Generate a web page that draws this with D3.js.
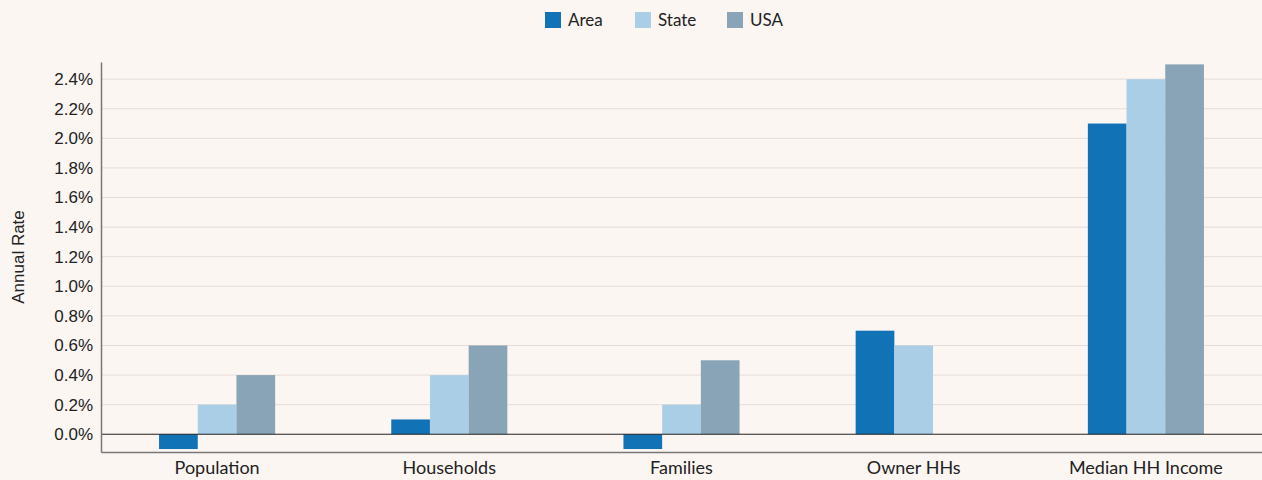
<!DOCTYPE html>
<html lang="en">
<head>
<meta charset="UTF-8">
<title>Annual Rate</title>
<style>
  body { margin: 0; background: #fcf6f3; }
  svg { display: block; }
</style>
</head>
<body>
<svg id="chart" width="1262" height="480"></svg>
<script src="https://cdn.jsdelivr.net/npm/d3@7"></script>
<script>
const categories = ["Population", "Households", "Families", "Owner HHs", "Median HH Income"];
const seriesNames = ["Area", "State", "USA"];
const areaValues = [-0.1, 0.1, -0.1, 0.7, 2.1];
const stateValues = [0.2, 0.4, 0.2, 0.6, 2.4];
const usaValues = [0.4, 0.6, 0.5, 0, 2.5];
const yTicks = [0, 0.2, 0.4, 0.6, 0.8, 1.0, 1.2, 1.4, 1.6, 1.8, 2.0, 2.2, 2.4];
const colors = ["#1172b6", "#abcee7", "#89a4b7"];

const series = [areaValues, stateValues, usaValues];
const svg = d3.select("#chart");
const plotLeft = 101, plotRight = 1262, plotTop = 62, plotBottom = 452;
const helv = "'Liberation Sans', Arial, sans-serif";

const x = d3.scaleBand().domain(categories).range([plotLeft, plotRight])
    .paddingInner(0.5).paddingOuter(0.25);
const xs = d3.scaleBand().domain(seriesNames).range([0, x.bandwidth()]);
const y = d3.scaleLinear().domain([-0.12, 2.516]).range([plotBottom, plotTop]);

svg.append("rect").attr("width", 1262).attr("height", 480).attr("fill", "#fcf6f3");

// grid
svg.append("g").selectAll("line").data(yTicks.filter(d => d !== 0)).enter().append("line")
    .attr("x1", plotLeft).attr("x2", plotRight)
    .attr("y1", d => y(d)).attr("y2", d => y(d))
    .attr("stroke", "#e6dcd8").attr("stroke-width", 1);

// bars
categories.forEach(function (c, i) {
    series.forEach(function (vals, s) {
        const v = vals[i];
        if (v === 0) return;
        svg.append("rect")
            .attr("x", x(c) + xs(seriesNames[s]))
            .attr("width", xs.bandwidth())
            .attr("y", y(Math.max(0, v)))
            .attr("height", Math.abs(y(v) - y(0)))
            .attr("fill", colors[s]);
    });
});

// zero line
svg.append("line").attr("x1", plotLeft).attr("x2", plotRight)
    .attr("y1", y(0)).attr("y2", y(0))
    .attr("stroke", "#222").attr("stroke-width", 1);

// y axis
const yAxis = svg.append("g").attr("transform", "translate(" + plotLeft + ",0)")
    .call(d3.axisLeft(y).tickValues(yTicks).tickSize(0).tickPadding(8)
        .tickFormat(d => d3.format(".1f")(d) + "%"));
yAxis.select(".domain").attr("stroke", "#777").attr("stroke-width", 1.5);
yAxis.selectAll("text").style("font-family", helv)
    .style("font-size", "17px").attr("fill", "#222");

// x axis
const xAxis = svg.append("g").attr("transform", "translate(0," + plotBottom + ")")
    .call(d3.axisBottom(x).tickSize(0).tickPadding(9));
xAxis.select(".domain").attr("stroke", "#777").attr("stroke-width", 1.5);
xAxis.selectAll("text").style("font-family", "Lato, sans-serif")
    .style("font-size", "18px").attr("fill", "#222");

// y title
svg.append("text")
    .attr("transform", "translate(24," + ((plotTop + plotBottom) / 2) + ") rotate(-90)")
    .attr("text-anchor", "middle")
    .style("font-family", helv)
    .style("font-size", "17px").attr("fill", "#222")
    .text("Annual Rate");

// legend
const legendX = [545, 635, 727];
const legend = svg.append("g").selectAll("g").data(seriesNames).enter().append("g")
    .attr("transform", (d, i) => "translate(" + legendX[i] + ",12)");
legend.append("rect").attr("width", 16).attr("height", 16).attr("fill", (d, i) => colors[i]);
legend.append("text").attr("x", 23).attr("y", 14)
    .style("font-family", "Lato, sans-serif").style("font-size", "17px").attr("fill", "#222")
    .text(d => d);
</script>
</body>
</html>
